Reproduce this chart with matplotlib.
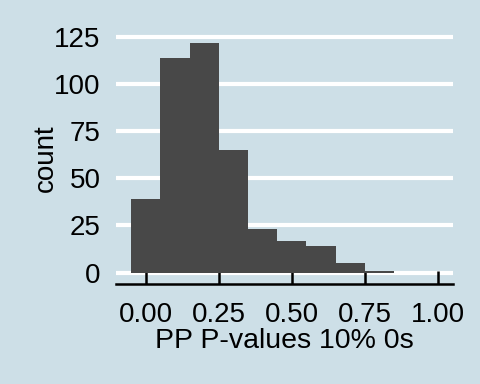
import matplotlib
matplotlib.use("Agg")
import matplotlib.pyplot as plt
import numpy as np

bin_centers = [0.0, 0.1, 0.2, 0.3, 0.4, 0.5, 0.6, 0.7, 0.8]
counts = [39, 114, 122, 65, 23, 17, 14, 5, 1]
x_ticks = [0.0, 0.25, 0.5, 0.75, 1.0]
x_ticklabels = ["0.00", "0.25", "0.50", "0.75", "1.00"]
y_ticks = [0, 25, 50, 75, 100, 125]
y_ticklabels = ["0", "25", "50", "75", "100", "125"]
bin_width = 0.1

bg = "#cddfe7"
plt.rcParams['font.family'] = ['Liberation Sans', 'DejaVu Sans']

fig = plt.figure(figsize=(4.8, 3.84), dpi=100)
fig.patch.set_facecolor(bg)
ax = fig.add_axes([116/480, 1-284/384, (453-116)/480, (284-31.5)/384])
ax.set_facecolor(bg)

ax.bar(bin_centers, counts, width=bin_width, color="#484848", edgecolor="none", zorder=3)

ax.set_xlim(-0.1025, 1.0525)
ax.set_ylim(-6.1, 128.1)
ax.set_yticks(y_ticks)
ax.set_yticklabels(y_ticklabels)
ax.set_xticks(x_ticks)
ax.set_xticklabels(x_ticklabels)
for y in y_ticks:
    ax.axhline(y, color="white", lw=3, zorder=1)

for s in ["top", "right", "left"]:
    ax.spines[s].set_visible(False)
ax.spines["bottom"].set_color("black")
ax.spines["bottom"].set_linewidth(1.8)
ax.spines["bottom"].set_zorder(4)

fs = 20
ax.tick_params(axis="y", length=0, labelsize=fs, pad=11, colors="black")
ax.tick_params(axis="x", direction="in", length=9.5, width=1.8, labelsize=fs, pad=13, colors="black")
for t in ax.get_xticklines():
    t.set_zorder(5)

ax.set_xlabel("PP P-values 10% 0s", fontsize=20.5, labelpad=0)
ax.set_ylabel("count", fontsize=20, labelpad=-3)

fig.savefig("out.png", dpi=100, facecolor=bg)
